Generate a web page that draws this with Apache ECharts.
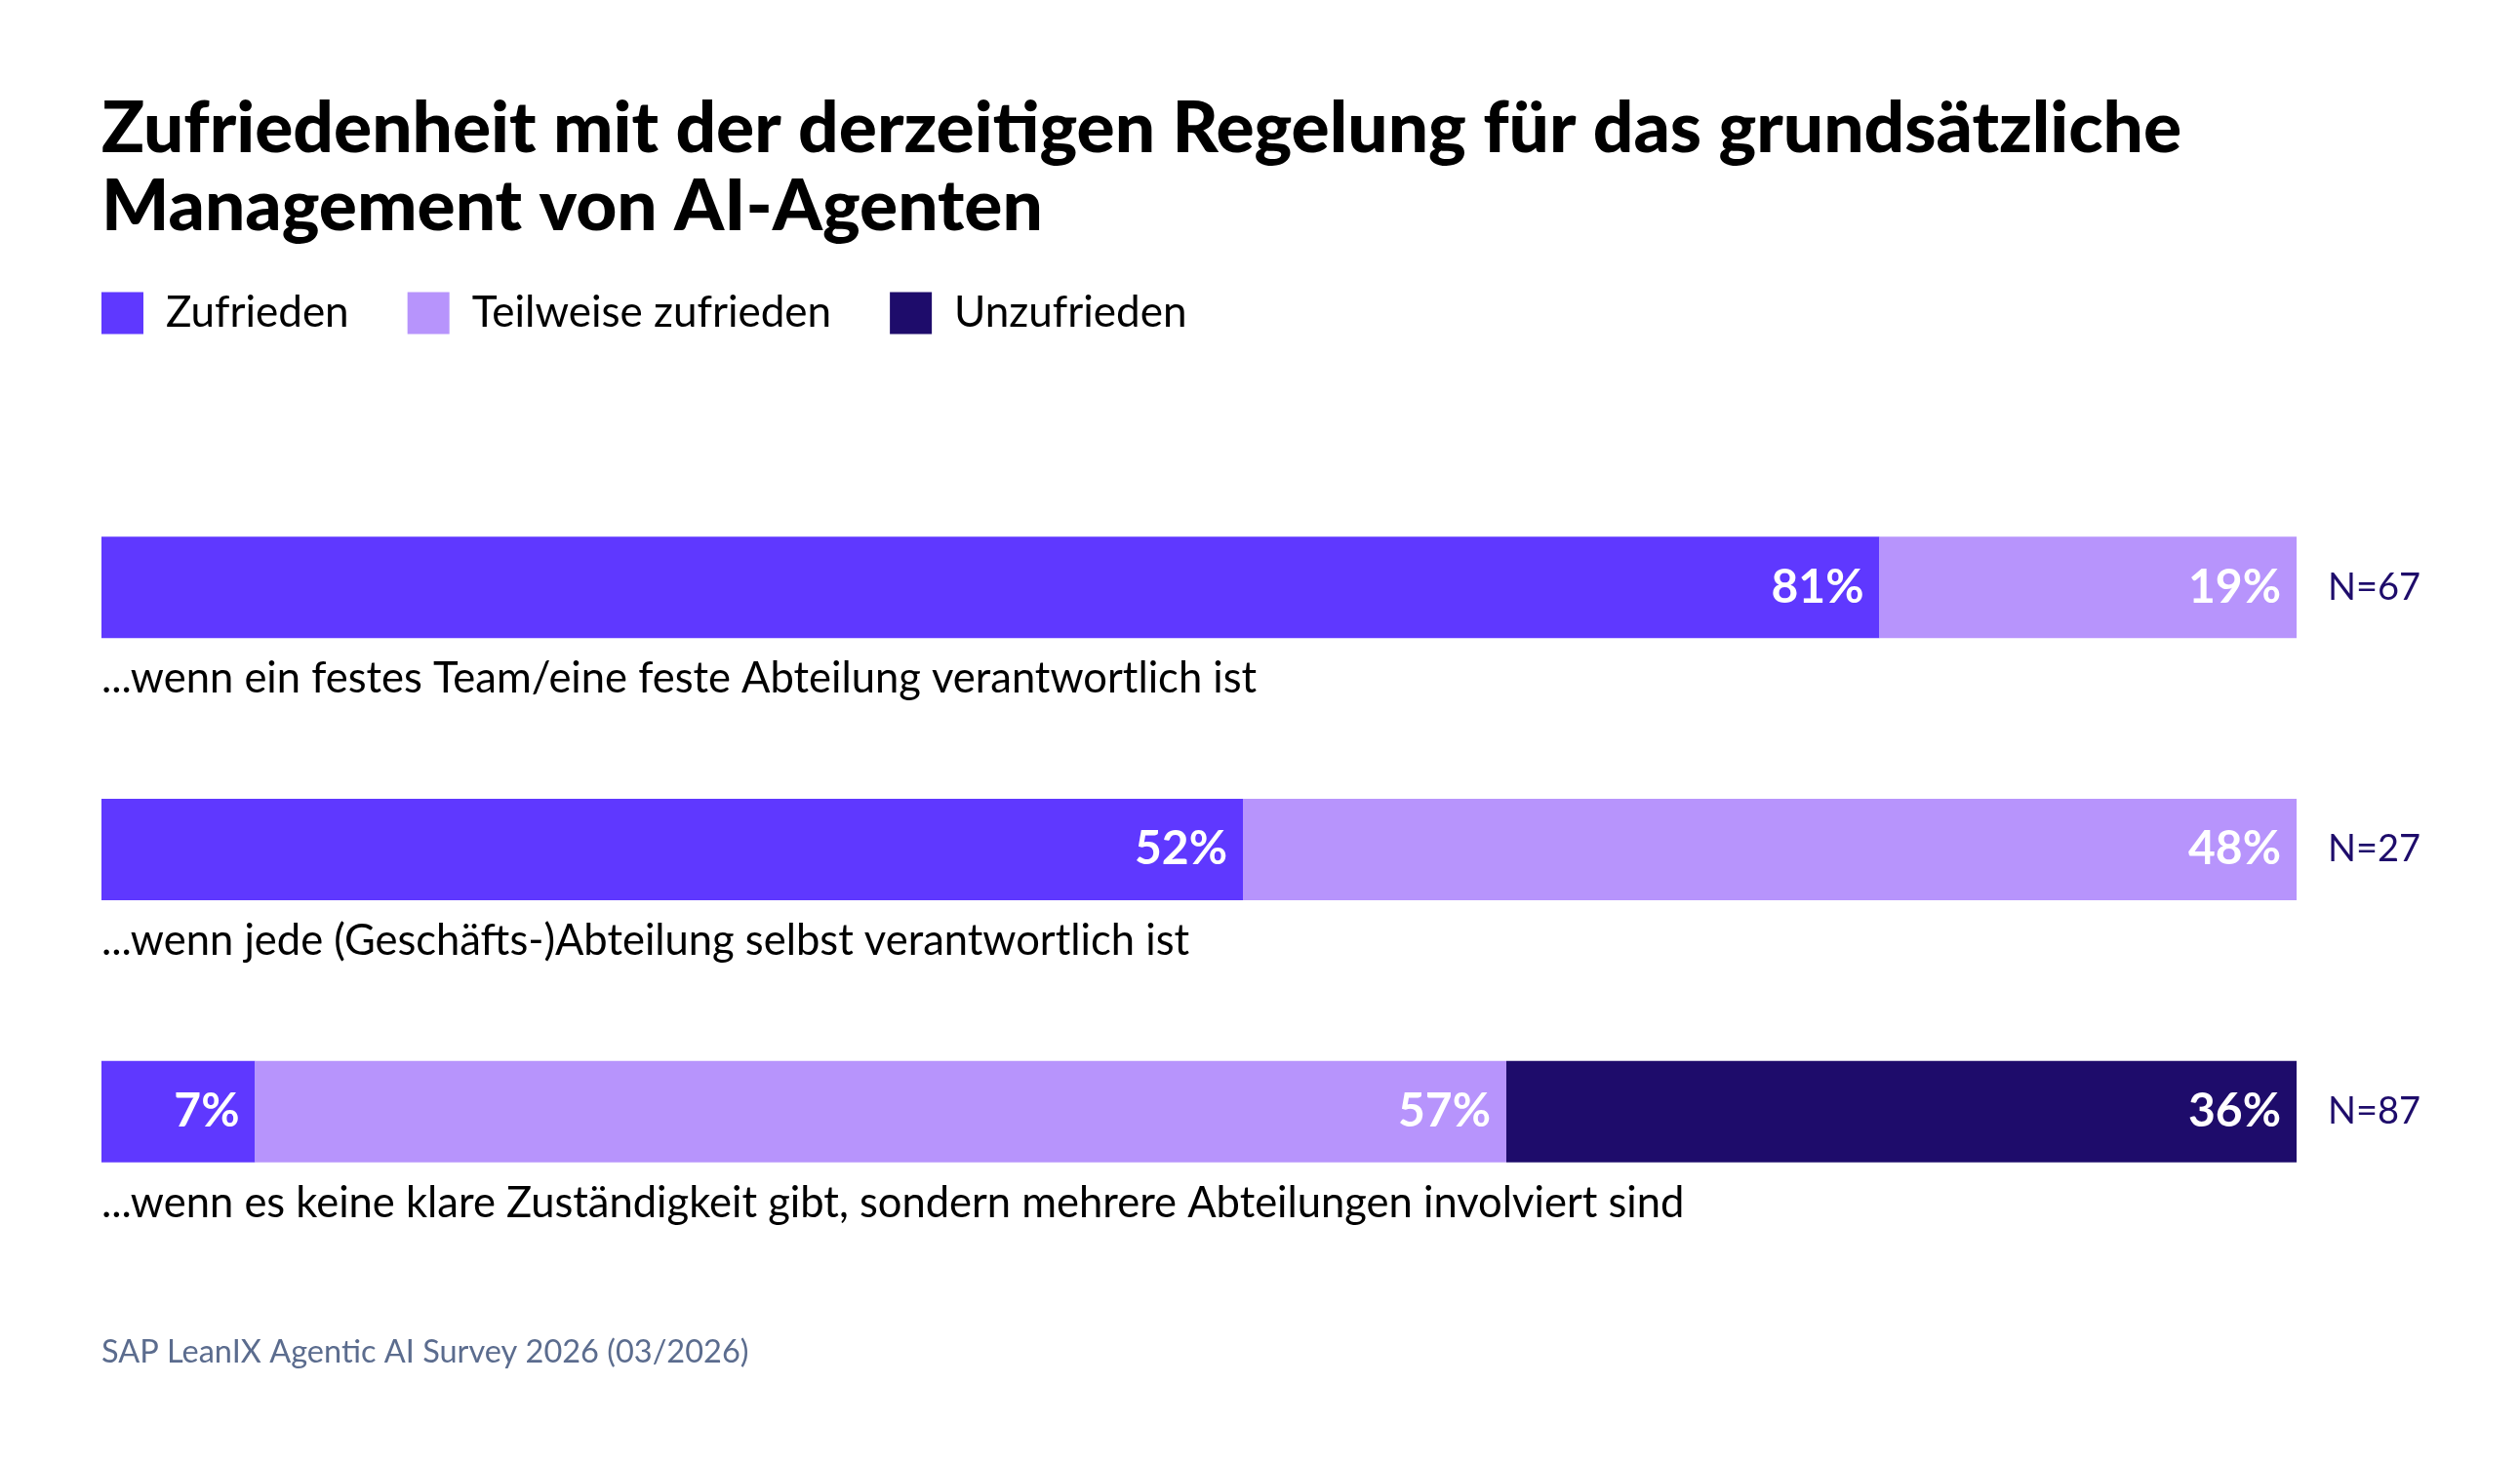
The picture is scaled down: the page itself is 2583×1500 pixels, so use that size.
<!DOCTYPE html>
<html>
<head>
<meta charset="utf-8">
<script src="https://cdn.jsdelivr.net/npm/echarts@6/dist/echarts.min.js"></script>
<style>
  html, body { margin: 0; padding: 0; background: #fff; }
  #chart { width: 2583px; height: 1500px; }
</style>
</head>
<body>
<div id="chart"></div>
<script>
// Werte aus der Grafik (Prozent)
const categories = [
    '...wenn ein festes Team/eine feste Abteilung verantwortlich ist',
    '...wenn jede (Geschäfts-)Abteilung selbst verantwortlich ist',
    '...wenn es keine klare Zuständigkeit gibt, sondern mehrere Abteilungen involviert sind'
];
const sampleSizes = ['N=67', 'N=27', 'N=87'];
const zufrieden = [81, 52, 7];
const teilweise = [19, 48, 57];
const unzufrieden = [0, 0, 36];

const FONT = 'Lato, "Open Sans", sans-serif';

const chart = echarts.init(document.getElementById('chart'));

function valueLabel() {
    return {
        show: true,
        position: 'insideRight',
        distance: 16,
        color: '#fff',
        fontFamily: FONT,
        fontWeight: 'bold',
        fontSize: 48,
        formatter: p => p.value > 0 ? p.value + '%' : ''
    };
}

const option = {
    backgroundColor: '#fff',
    animation: false,
    title: [{
        text: 'Zufriedenheit mit der derzeitigen Regelung für das grundsätzliche\nManagement von AI-Agenten',
        left: 104,
        top: 92,
        padding: 0,
        textStyle: {
            fontFamily: FONT,
            fontWeight: 900,
            fontSize: 73,
            lineHeight: 80,
            color: '#000'
        }
    }, {
        text: 'SAP LeanIX Agentic AI Survey 2026 (03/2026)',
        left: 104,
        top: 1370,
        padding: 0,
        textStyle: {
            fontFamily: FONT,
            fontWeight: 'normal',
            fontSize: 32.5,
            color: '#5b6c8e'
        }
    }],
    legend: {
        left: 104,
        top: 299,
        padding: 0,
        itemWidth: 43,
        itemHeight: 43,
        itemGap: 60,
        icon: 'rect',
        selectedMode: false,
        textStyle: {
            fontFamily: FONT,
            fontSize: 44,
            color: '#000',
            padding: [0, 0, 0, 18]
        },
        data: ['Zufrieden', 'Teilweise zufrieden', 'Unzufrieden']
    },
    grid: {
        left: 104,
        right: 229,
        top: 468,
        bottom: 226
    },
    xAxis: {
        type: 'value',
        min: 0,
        max: 100,
        show: false
    },
    yAxis: [{
        type: 'category',
        inverse: true,
        data: categories,
        axisLine: { show: false },
        axisTick: { show: false },
        axisLabel: {
            inside: true,
            margin: 0,
            align: 'left',
            verticalAlign: 'top',
            formatter: v => '{gap| }\n{t|' + v + '}',
            rich: {
                gap: { height: 70, lineHeight: 70, fontSize: 10 },
                t: { fontFamily: FONT, fontSize: 43.5, lineHeight: 48, color: '#000' }
            }
        }
    }, {
        type: 'category',
        inverse: true,
        position: 'right',
        data: sampleSizes,
        axisLine: { show: false },
        axisTick: { show: false },
        axisLabel: {
            margin: 32,
            fontFamily: FONT,
            fontSize: 38,
            color: '#1e0c6b'
        }
    }],
    series: [{
        name: 'Zufrieden',
        type: 'bar',
        stack: 'total',
        barWidth: 104,
        itemStyle: { color: '#5f38ff' },
        label: valueLabel(),
        data: zufrieden
    }, {
        name: 'Teilweise zufrieden',
        type: 'bar',
        stack: 'total',
        barWidth: 104,
        itemStyle: { color: '#b794fc' },
        label: valueLabel(),
        data: teilweise
    }, {
        name: 'Unzufrieden',
        type: 'bar',
        stack: 'total',
        barWidth: 104,
        itemStyle: { color: '#1e0c6b' },
        label: valueLabel(),
        data: unzufrieden
    }]
};

chart.setOption(option);
</script>
</body>
</html>
